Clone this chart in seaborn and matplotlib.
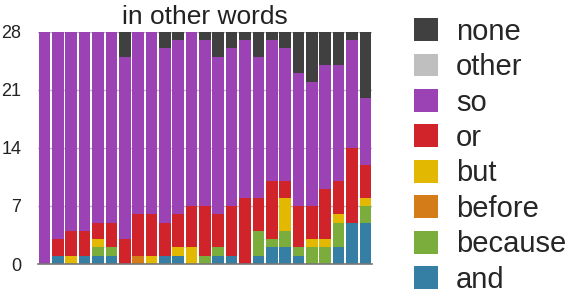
import matplotlib
matplotlib.use("Agg")
import matplotlib.pyplot as plt
import numpy as np
import pandas as pd
import seaborn as sns
from matplotlib.patches import Patch

WORDS = ["none", "other", "so", "or", "but", "before", "because", "and"]
COLORS = ["#404040", "#bfbfbf", "#9b43b5", "#d1232a", "#e3b800", "#d47c17", "#7bad3c", "#367fa4"]

# counts per bar (25 bars, left to right)
AND = [0, 1, 0, 1, 1, 1, 0, 0, 0, 1, 1, 0, 0, 1, 1, 0, 1, 2, 2, 1, 0, 0, 2, 5, 5]
BECAUSE = [0, 0, 0, 0, 1, 1, 0, 0, 0, 0, 0, 0, 1, 1, 0, 0, 3, 1, 2, 1, 2, 2, 3, 0, 2]
BEFORE = [0, 0, 0, 0, 0, 0, 0, 1, 0, 0, 0, 0, 0, 0, 0, 0, 0, 0, 0, 0, 0, 0, 0, 0, 0]
BUT = [0, 0, 1, 0, 1, 0, 0, 0, 1, 0, 1, 2, 0, 0, 0, 0, 0, 0, 4, 0, 1, 1, 1, 0, 1]
OR = [0, 2, 3, 3, 2, 3, 3, 5, 5, 4, 4, 5, 6, 4, 6, 8, 4, 7, 2, 5, 4, 6, 4, 9, 4]
SO = [28, 25, 24, 24, 23, 23, 22, 22, 22, 21, 21, 21, 20, 19, 19, 19, 17, 17, 16, 16, 15, 15, 14, 13, 8]
OTHER = [0] * 25
NONE = [0, 0, 0, 0, 0, 0, 3, 0, 0, 2, 1, 0, 1, 3, 2, 1, 3, 1, 2, 5, 6, 4, 4, 1, 8]

series = {
    "none": NONE, "other": OTHER, "so": SO, "or": OR, "but": BUT,
    "before": BEFORE, "because": BECAUSE, "and": AND,
}

rows = []
for word, vals in series.items():
    for i, v in enumerate(vals):
        rows.append({"bar": i, "word": word, "count": v})
df = pd.DataFrame(rows)

sns.set_theme(style="white")
plt.rcParams["font.family"] = ["Liberation Sans", "DejaVu Sans"]

fig = plt.figure(figsize=(5.68, 2.95), dpi=100)
ax = fig.add_axes([0.067, 0.105, 0.588, 0.787])

sns.histplot(
    data=df, x="bar", hue="word", weights="count",
    hue_order=WORDS, palette=dict(zip(WORDS, COLORS)),
    multiple="stack", discrete=True, shrink=0.87,
    alpha=1, linewidth=0, legend=False, ax=ax, zorder=2,
)

ax.set_xlim(-0.48, 24.5)
ax.set_ylim(0, 28)
ax.set_yticks([0, 7, 14, 21, 28])
ax.set_xticks([])
ax.set_xlabel("")
ax.set_ylabel("")
ax.grid(axis="y", color="#bbbbbb", linewidth=1, zorder=0)
ax.set_axisbelow(True)
for side in ["top", "right", "left"]:
    ax.spines[side].set_visible(False)
ax.spines["bottom"].set_color("#777777")
ax.spines["bottom"].set_linewidth(1.2)
ax.tick_params(axis="y", length=0, labelsize=13, pad=12, labelcolor="#222222")
ax.set_title("in other words", fontsize=19, color="#222222", pad=6)

handles = [Patch(facecolor=c, edgecolor="none", label=w) for w, c in zip(WORDS, COLORS)]
fig.legend(
    handles=handles, loc="upper left", bbox_to_anchor=(0.729, 0.94),
    frameon=False, fontsize=21, handlelength=0.83, handleheight=0.83,
    handletextpad=0.6, labelspacing=0.255, borderpad=0, borderaxespad=0,
)

fig.savefig("out.png", dpi=100)
